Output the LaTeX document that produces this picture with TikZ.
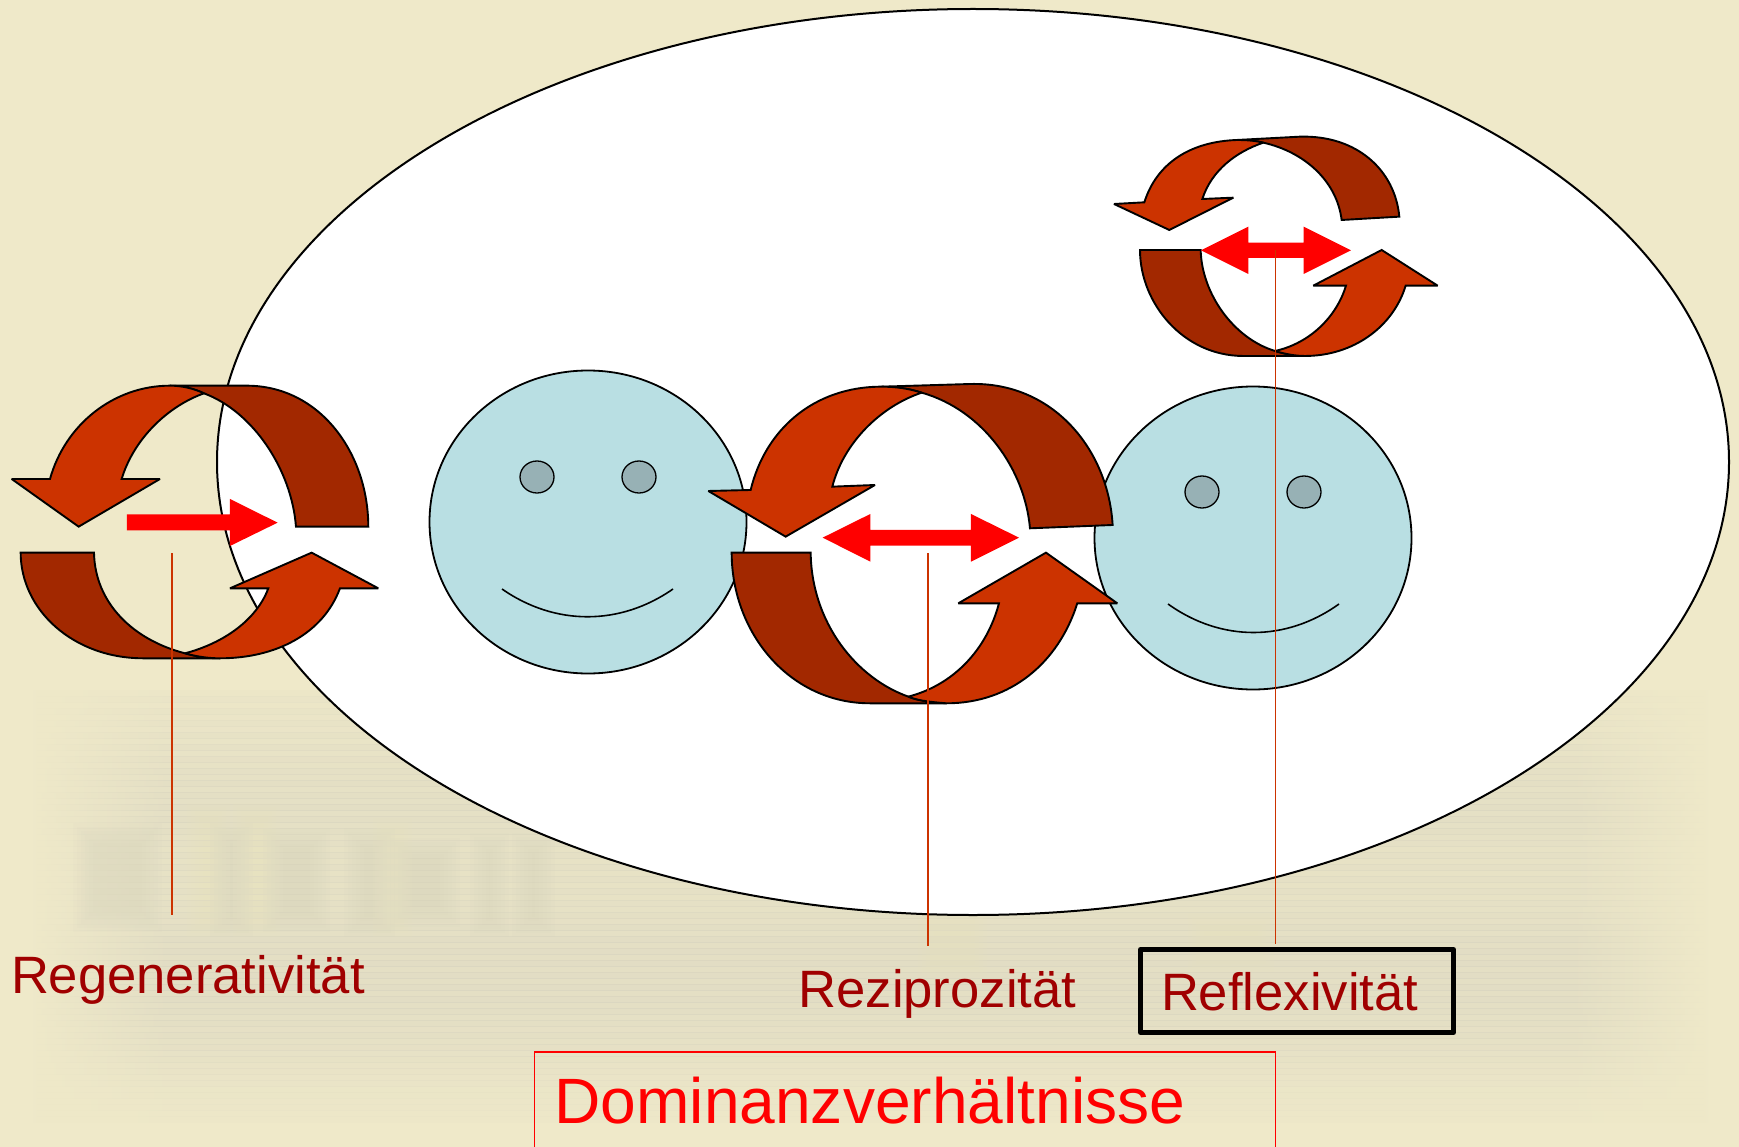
\documentclass[tikz,border=0pt]{standalone}
\usepackage{fontspec}
\setmainfont{Liberation Sans}
\usetikzlibrary{shapes.geometric}
\definecolor{bgbeige}{HTML}{EFE9C9}
\definecolor{smudge}{HTML}{CFCCBC}
\definecolor{glow}{HTML}{F3EEC0}
\definecolor{facefill}{HTML}{B9DFE3}
\definecolor{eyefill}{HTML}{97B1B5}
\definecolor{lightarrow}{HTML}{CC3300}
\definecolor{darkarrow}{HTML}{A22800}
\definecolor{labelred}{HTML}{A00000}
\pgfdeclarehorizontalshading{bandshade}{100bp}{
  color(0bp)=(bgbeige); color(25bp)=(bgbeige); color(29bp)=(smudge); color(71bp)=(smudge); color(75bp)=(bgbeige); color(100bp)=(bgbeige)}
\newcommand{\softbar}[5]{% colour, left, right, top, bottom
  \foreach \ii in {0,1,2,3,4,5}{
    \fill[#1,opacity=0.05] (#2-12+4*\ii,#4-12+4*\ii) rectangle (#3+12-4*\ii,#5+12-4*\ii);
  }}
\tikzset{
  curvedark/.style={draw=black,fill=darkarrow,line width=1.9pt,line join=miter,miter limit=3},
  curvelight/.style={draw=black,fill=lightarrow,line width=1.9pt,line join=miter,miter limit=3},
  redarrow/.style={fill=red,draw=none},
  guide/.style={draw=lightarrow,line width=1.5pt},
  face/.style={draw=black,fill=facefill,line width=1.8pt},
  eye/.style={draw=black,fill=eyefill,line width=1.3pt},
  smile/.style={draw=black,line width=1.6pt},
  lab/.style={anchor=base west,inner sep=0pt,outer sep=0pt,text=labelred,font=\fontsize{52.6}{60}\selectfont},
}
\begin{document}
\begin{tikzpicture}[x=1pt,y=-1pt]
\useasboundingbox (0,0) rectangle (1739,1147);
\fill[bgbeige] (0,0) rectangle (1739,1147);
% blurred background band, built of thin horizontal stripes
\foreach \yy/\op in {690/.08,696/.14,702/.08,708/.17,714/.12,720/.20,726/.14,732/.23,738/.17,744/.26,750/.20,756/.28,762/.23,768/.30,774/.25,780/.32,786/.27,792/.34,798/.29,804/.36,810/.30,816/.36,822/.30,828/.34,834/.26,840/.30,846/.24,852/.30,858/.24,864/.30,870/.24,876/.30,882/.24,888/.30,894/.24,900/.30,906/.26,912/.32,918/.28,924/.36,930/.30,936/.38,942/.32,948/.38,954/.32,960/.38,966/.32,972/.38,978/.32,984/.38,990/.32,996/.38,1002/.32,1008/.36,1014/.30,1020/.34,1026/.28,1032/.32,1038/.26,1044/.28,1050/.22,1056/.24,1062/.18,1068/.18,1074/.14,1080/.14,1086/.10,1092/.10,1098/.07,1104/.07,1110/.04,1116/.04}{
  \shade[shading=bandshade,opacity=\op] (30,\yy) rectangle (1710,\yy+6);
}
% ghost of the blurred background letters
\softbar{smudge}{85}{150}{835}{920}
\softbar{smudge}{222}{241}{835}{925}
\softbar{smudge}{275}{318}{840}{920}
\softbar{smudge}{356}{383}{840}{925}
\softbar{smudge}{402}{448}{850}{915}
\softbar{smudge}{482}{497}{845}{925}
\softbar{smudge}{524}{543}{845}{925}
\softbar{glow}{199}{218}{815}{925}
\softbar{glow}{245}{268}{815}{925}
\softbar{glow}{385}{400}{830}{925}
\softbar{glow}{930}{975}{920}{965}
\softbar{glow}{1200}{1262}{925}{960}
% large ellipse
\node[draw=black,fill=white,line width=2pt,ellipse,minimum width=1512pt,minimum height=906pt,inner sep=0pt,outer sep=0pt] (bigellipse) at (973,462) {};
% faces
\node[face,ellipse,minimum width=317pt,minimum height=303pt,inner sep=0pt] (faceL) at (588,522) {};
\node[eye,ellipse,minimum width=34pt,minimum height=32pt,inner sep=0pt] (eyeLa) at (537,477) {};
\node[eye,ellipse,minimum width=34pt,minimum height=32pt,inner sep=0pt] (eyeLb) at (639,477) {};
\draw[smile] (502,589) .. controls (555,626) and (620,626) .. (673,589);
\node[face,ellipse,minimum width=317pt,minimum height=303pt,inner sep=0pt] (faceR) at (1253,538) {};
\node[eye,ellipse,minimum width=34pt,minimum height=32pt,inner sep=0pt] (eyeRa) at (1202,492) {};
\node[eye,ellipse,minimum width=34pt,minimum height=32pt,inner sep=0pt] (eyeRb) at (1304,492) {};
\draw[smile] (1168,604) .. controls (1221,642) and (1286,642) .. (1339,604);
% left set
\begin{scope}[shift={(0,370)},x=0.3333pt,y=-0.3333pt]
\path[curvedark] (510,47) -- (740,47) .. controls (960,47) and (1105,250) .. (1105,470) -- (888,470)
  .. controls (875,300) and (760,125) .. (612,70) .. controls (580,55) and (545,47) .. (510,47) -- cycle;
\path[curvelight] (510,47) .. controls (340,47) and (195,165) .. (150,327) -- (35,327) -- (236,470) -- (480,327) -- (365,327)
  .. controls (400,210) and (500,110) .. (612,70) .. controls (580,55) and (545,47) .. (510,47) -- cycle;
\path[curvedark] (62,548) -- (282,548) .. controls (285,700) and (400,810) .. (555,850)
  .. controls (590,860) and (625,865) .. (660,865) -- (430,865) .. controls (220,865) and (62,720) .. (62,548) -- cycle;
\path[curvelight] (555,850) .. controls (670,820) and (770,750) .. (805,655) -- (690,655) -- (935,548) -- (1135,655) -- (1020,655)
  .. controls (970,790) and (830,865) .. (660,865) .. controls (625,865) and (590,860) .. (555,850) -- cycle;
\path[redarrow] (381,433) -- (690,433) -- (690,387) -- (833,458) -- (690,528) -- (690,481) -- (381,481) -- cycle;
\end{scope}
% middle set
\begin{scope}[shift={(700,370)},x=0.3333pt,y=-0.3333pt]
\path[curvedark] (545,50) -- (810,42) .. controls (1060,35) and (1225,240) .. (1238,465) -- (990,475)
  .. controls (975,300) and (850,120) .. (665,68) .. controls (625,55) and (585,50) .. (545,50) -- cycle;
\path[curvelight] (545,50) .. controls (340,50) and (195,180) .. (152,360) -- (25,363) -- (257,500) -- (525,345) -- (397,350)
  .. controls (430,220) and (540,110) .. (665,68) .. controls (625,55) and (585,50) .. (545,50) -- cycle;
\path[curvedark] (95,548) -- (332,548) .. controls (335,760) and (470,925) .. (625,980)
  .. controls (650,990) and (675,995) .. (740,1000) -- (510,1000) .. controls (270,1000) and (95,790) .. (95,548) -- cycle;
\path[curvelight] (625,980) .. controls (760,945) and (860,840) .. (897,700) -- (775,700) -- (1038,548) -- (1252,700) -- (1132,700)
  .. controls (1075,880) and (930,1000) .. (740,1000) .. controls (675,995) and (650,990) .. (625,980) -- cycle;
\path[redarrow] (368,503) -- (511,432) -- (511,480) -- (813,480) -- (813,432) -- (957,503) -- (813,575) -- (813,527) -- (511,527) -- (511,575) -- cycle;
\end{scope}
% upper set
\begin{scope}[shift={(1100,120)},x=0.3333pt,y=-0.3333pt]
\path[curvedark] (410,60) -- (600,50) .. controls (770,45) and (885,150) .. (898,290) -- (725,300)
  .. controls (710,180) and (610,95) .. (490,68) .. controls (465,62) and (440,60) .. (410,60) -- cycle;
\path[curvelight] (410,60) .. controls (270,65) and (170,130) .. (133,247) -- (42,252) -- (208,330) -- (400,233) -- (307,237)
  .. controls (335,150) and (410,95) .. (490,68) .. controls (465,62) and (440,60) .. (410,60) -- cycle;
\path[curvedark] (120,390) -- (302,390) .. controls (305,520) and (400,655) .. (525,693)
  .. controls (555,702) and (585,708) .. (615,708) -- (430,708) .. controls (250,708) and (120,550) .. (120,390) -- cycle;
\path[curvelight] (525,693) .. controls (630,670) and (710,590) .. (738,497) -- (640,497) -- (845,390) -- (1013,497) -- (917,497)
  .. controls (880,620) and (760,708) .. (615,708) .. controls (585,708) and (555,702) .. (525,693) -- cycle;
\path[redarrow] (303,391) -- (445,320) -- (445,368) -- (611,368) -- (611,320) -- (753,391) -- (611,462) -- (611,414) -- (445,414) -- (445,462) -- cycle;
\end{scope}
% guide lines
\coordinate (g1a) at (172,553); \coordinate (g1b) at (172,915);
\coordinate (g2a) at (928,553); \coordinate (g2b) at (928,946);
\coordinate (g3a) at (1275.5,250); \coordinate (g3b) at (1275.5,944);
\draw[guide] (g1a) -- (g1b);
\draw[guide] (g2a) -- (g2b);
\draw[guide] (g3a) -- (g3b);
% labels
\node[lab] (regen) at (11,993) {Regenerativität};
\node[lab] (rezi) at (798.5,1007.7) {Reziprozität};
\draw[black,line width=5pt,line join=round] (1140.5,949.5) rectangle (1453.5,1032.5);
\node[lab] (refl) at (1161,1010.7) {Reflexivität};
\draw[red,line width=1.7pt] (534.5,1160) -- (534.5,1051.7) -- (1275.5,1051.7) -- (1275.5,1160);
\node[anchor=base west,inner sep=0pt,outer sep=0pt,text=red,font=\fontsize{64.1}{72}\selectfont] (dom) at (554.5,1123) {Dominanzverhältnisse};
\end{tikzpicture}
\end{document}
